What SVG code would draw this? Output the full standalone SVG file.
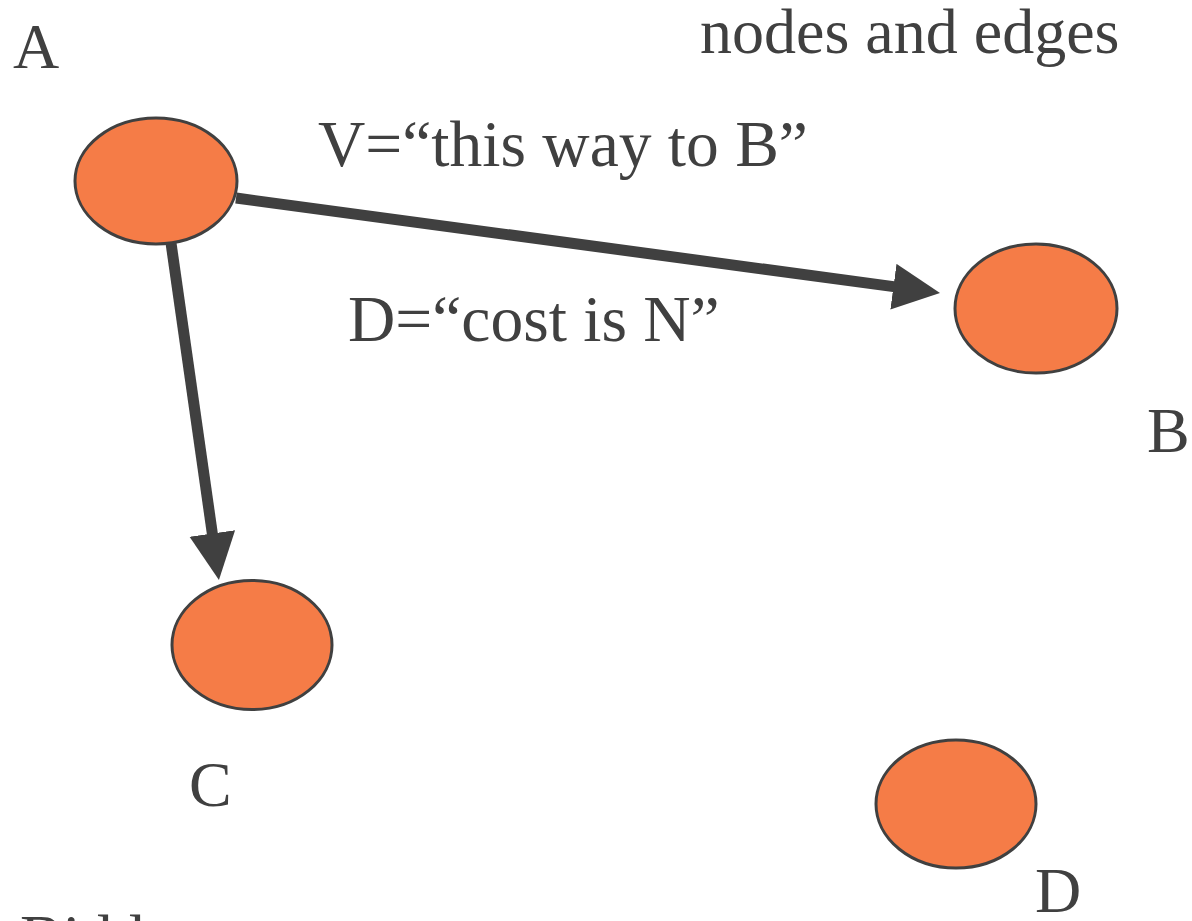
<svg xmlns="http://www.w3.org/2000/svg" width="1192" height="921" viewBox="0 0 1192 921">
<style>
.node{fill:#F57C47;stroke:#404040;stroke-width:3}
.edge{stroke:#404040;stroke-width:11;fill:none}
.t{font-family:"Liberation Serif","Times New Roman",serif;font-size:64px;fill:#404040}
.lbl{font-size:65.5px}
</style>
<defs>
<marker id="arr" markerUnits="userSpaceOnUse" markerWidth="50" markerHeight="48" refX="2" refY="23" orient="auto">
<path d="M0,0 L47,23 L0,46 z" fill="#404040"/>
</marker>
</defs>
<rect width="1192" height="921" fill="#ffffff"/>
<text class="t" x="700" y="53">nodes and edges</text>
<g id="connectors">
<line class="edge" x1="236" y1="198" x2="895.4" y2="286.9" marker-end="url(#arr)"/>
<line class="edge" x1="171" y1="243" x2="212.6" y2="535.4" marker-end="url(#arr)"/>
<text class="t lbl" x="318" y="166">V=“this way to B”</text>
<text class="t lbl" x="348" y="341">D=“cost is N”</text>
</g>
<g id="nodeA">
<ellipse class="node" cx="156" cy="181" rx="81" ry="63"/>
<text class="t" x="13" y="68">A</text>
</g>
<g id="nodeB">
<ellipse class="node" cx="1036" cy="308.5" rx="81" ry="64.5"/>
<text class="t" x="1147" y="452">B</text>
</g>
<g id="nodeC">
<ellipse class="node" cx="252" cy="645" rx="80" ry="64.5"/>
<text class="t" x="189" y="806">C</text>
</g>
<g id="nodeD">
<ellipse class="node" cx="956" cy="804" rx="80" ry="64"/>
<text class="t" x="1035" y="912">D</text>
</g>
<text class="t" x="20" y="959">Bidd</text>
</svg>
